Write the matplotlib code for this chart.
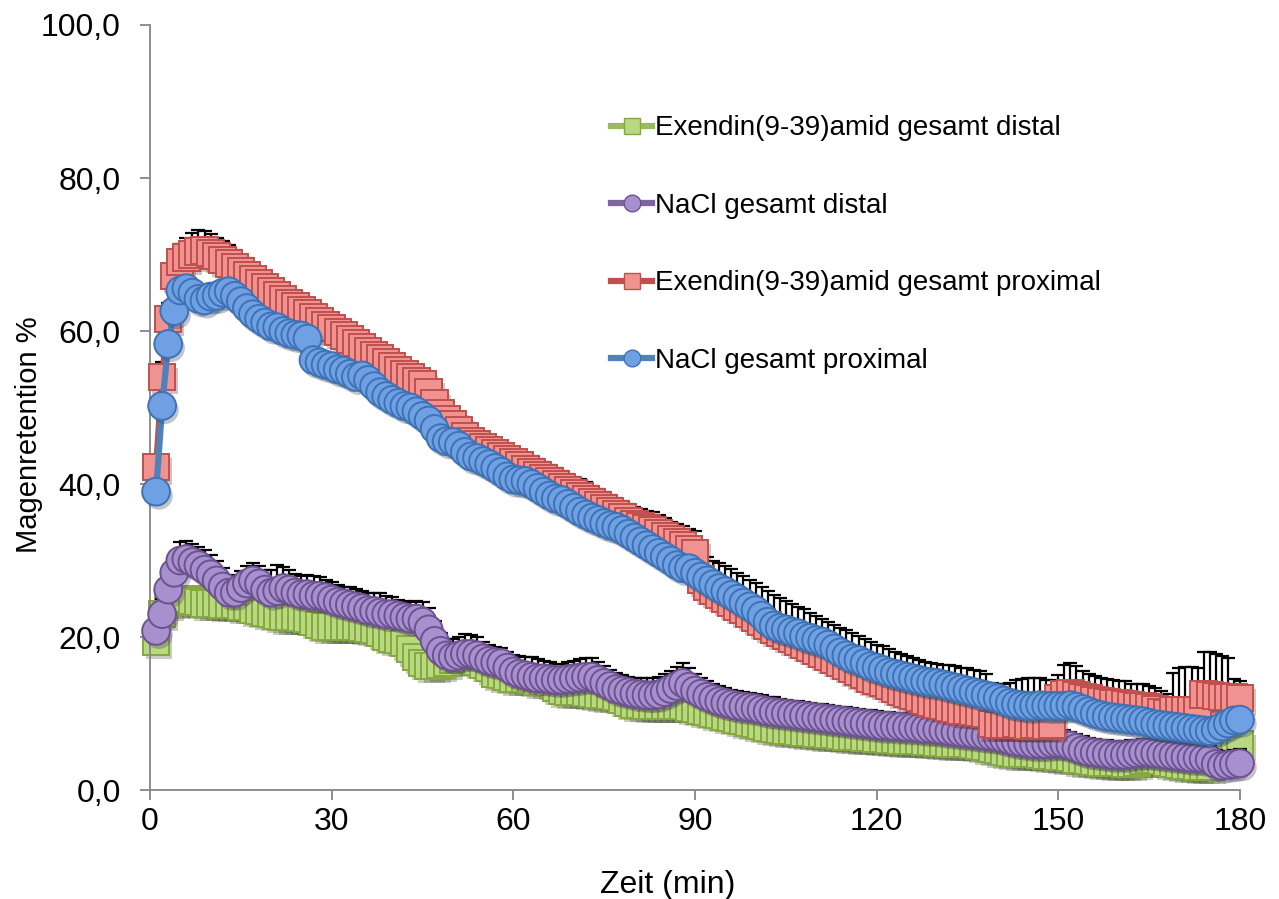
import matplotlib
matplotlib.use("Agg")
import matplotlib.pyplot as plt
import matplotlib.patheffects as pe
from matplotlib.lines import Line2D
import numpy as np
from matplotlib.ticker import FuncFormatter, MultipleLocator

plt.rcParams['font.family'] = ['Liberation Sans', 'DejaVu Sans']

# Zeitpunkte 1..180 min
zeit = np.arange(1, 181)

# Exendin(9-39)amid gesamt distal
exendin_distal = [
    19.4, 23.0, 24.4, 24.6, 24.8, 25.0, 24.8, 24.6, 24.4, 24.4,
    24.4, 24.2, 24.2, 24.2, 24.0, 24.0, 23.6, 23.4, 23.2, 23.0,
    22.8, 22.6, 22.6, 22.6, 22.5, 22.4, 22.0, 21.6, 21.4, 21.4,
    21.4, 21.4, 21.3, 21.3, 21.2, 21.1, 21.0, 20.6, 20.0, 19.8,
    19.6, 19.2, 18.4, 17.4, 16.6, 16.2, 16.2, 16.4, 16.6, 17.0,
    17.2, 17.4, 17.2, 16.8, 16.4, 16.0, 15.2, 15.0, 14.8, 14.6,
    14.6, 14.6, 14.4, 14.2, 14.2, 14.0, 13.4, 13.0, 12.8, 12.8,
    12.8, 12.7, 12.6, 12.5, 12.4, 12.3, 12.2, 11.8, 11.4, 11.2,
    11.1, 11.0, 11.0, 11.0, 11.0, 11.0, 11.0, 11.0, 10.8, 10.6,
    10.4, 10.2, 10.0, 9.8, 9.6, 9.4, 9.2, 9.0, 8.8, 8.6,
    8.4, 8.2, 8.0, 7.9, 7.8, 7.7, 7.6, 7.5, 7.5, 7.4,
    7.3, 7.2, 7.2, 7.1, 7.0, 7.0, 6.9, 6.8, 6.8, 6.7,
    6.7, 6.6, 6.6, 6.5, 6.5, 6.4, 6.4, 6.3, 6.3, 6.2,
    6.2, 6.1, 6.1, 6.0, 6.0, 5.9, 5.8, 5.6, 5.4, 5.2,
    5.0, 4.9, 4.8, 4.8, 4.7, 4.7, 4.6, 4.5, 4.5, 4.4,
    4.3, 4.2, 4.0, 3.9, 3.8, 3.7, 3.6, 3.6, 3.5, 3.5,
    3.4, 3.4, 3.6, 3.8, 3.9, 4.0, 3.8, 3.6, 3.4, 3.3,
    3.2, 3.2, 3.1, 3.1, 3.0, 5.6, 5.8, 5.9, 6.0, 6.0,
]

# NaCl gesamt distal
nacl_distal = [
    20.8, 23.0, 26.2, 28.4, 30.0, 30.2, 29.8, 29.4, 28.8, 28.2,
    27.4, 26.6, 25.8, 25.8, 26.4, 27.0, 27.4, 27.0, 26.2, 25.8,
    26.0, 26.4, 26.2, 25.8, 25.6, 25.6, 25.4, 25.4, 25.2, 24.9,
    24.6, 24.4, 24.2, 24.0, 23.8, 23.5, 23.4, 23.2, 23.0, 23.0,
    22.8, 22.6, 22.4, 22.4, 22.0, 21.0, 19.5, 18.2, 17.6, 17.4,
    17.6, 17.8, 17.8, 17.6, 17.2, 16.9, 16.7, 16.6, 16.0, 15.5,
    15.2, 15.0, 14.8, 14.6, 14.6, 14.5, 14.4, 14.4, 14.5, 14.6,
    14.7, 14.8, 14.8, 14.4, 14.0, 13.6, 13.2, 13.0, 12.8, 12.6,
    12.5, 12.4, 12.4, 12.5, 12.8, 13.2, 13.6, 14.0, 13.5, 13.0,
    12.6, 12.2, 11.9, 11.6, 11.4, 11.2, 11.0, 10.9, 10.8, 10.7,
    10.5, 10.3, 10.2, 10.1, 10.0, 9.9, 9.8, 9.7, 9.6, 9.5,
    9.4, 9.3, 9.2, 9.1, 9.0, 8.9, 8.8, 8.7, 8.6, 8.5,
    8.4, 8.4, 8.3, 8.3, 8.2, 8.2, 8.1, 8.0, 8.0, 7.9,
    7.8, 7.7, 7.6, 7.5, 7.4, 7.3, 7.2, 7.1, 7.0, 6.9,
    6.7, 6.5, 6.3, 6.2, 6.1, 6.0, 6.0, 6.0, 6.1, 6.1,
    6.0, 5.8, 5.5, 5.2, 5.0, 4.9, 4.8, 4.7, 4.6, 4.6,
    4.6, 4.7, 4.8, 4.9, 4.9, 4.8, 4.7, 4.6, 4.5, 4.4,
    4.3, 4.2, 4.2, 4.1, 4.0, 3.4, 3.2, 3.3, 3.4, 3.5,
]

# Exendin(9-39)amid gesamt proximal
exendin_proximal = [
    42.2, 54.0, 61.6, 67.2, 69.0, 69.6, 70.0, 70.4, 70.5, 70.2,
    69.8, 69.3, 68.8, 68.3, 67.8, 67.3, 66.8, 66.2, 65.7, 65.2,
    64.7, 64.2, 63.7, 63.2, 62.7, 62.3, 61.8, 61.3, 60.8, 60.4,
    59.9, 59.4, 58.9, 58.4, 57.9, 57.4, 56.9, 56.4, 55.9, 55.4,
    54.9, 54.4, 53.9, 53.5, 53.0, 52.0, 50.5, 49.2, 48.5, 47.8,
    47.0, 46.3, 45.6, 45.2, 44.8, 44.4, 44.0, 43.6, 43.2, 42.8,
    42.4, 42.0, 41.6, 41.2, 40.8, 40.4, 40.0, 39.6, 39.2, 38.8,
    38.4, 38.0, 37.6, 37.2, 36.8, 36.4, 36.0, 35.6, 35.2, 34.8,
    34.5, 34.2, 34.0, 33.6, 33.2, 32.8, 32.4, 32.0, 31.5, 31.0,
    27.5, 26.5, 26.0, 25.5, 25.0, 24.5, 24.0, 23.5, 23.0, 22.5,
    22.0, 21.5, 21.0, 20.6, 20.2, 19.8, 19.4, 19.0, 18.6, 18.2,
    17.8, 17.4, 17.0, 16.6, 16.2, 15.8, 15.4, 15.0, 14.6, 14.3,
    14.0, 13.6, 13.2, 12.9, 12.6, 12.3, 12.0, 11.7, 11.4, 11.2,
    11.0, 10.8, 10.6, 10.4, 10.3, 10.2, 10.1, 10.0, 8.6, 8.5,
    8.5, 8.5, 8.6, 8.5, 8.4, 8.5, 8.5, 8.4, 8.5, 12.0,
    12.5, 12.6, 12.4, 12.2, 12.0, 11.8, 11.6, 11.5, 11.4, 11.3,
    11.2, 11.1, 11.0, 10.9, 10.8, 10.6, 10.2, 10.0, 10.5, 10.5,
    10.5, 10.5, 10.5, 12.5, 12.4, 12.3, 12.2, 12.2, 12.1, 12.0,
]

# NaCl gesamt proximal
nacl_proximal = [
    39.0, 50.2, 58.3, 62.6, 65.3, 65.6, 65.0, 64.2, 64.0, 64.5,
    64.6, 65.0, 65.2, 64.6, 63.9, 63.0, 62.2, 61.6, 61.1, 60.6,
    60.5, 60.0, 59.7, 59.5, 59.4, 59.0, 56.2, 55.9, 55.6, 55.4,
    55.0, 54.8, 54.4, 54.0, 54.2, 53.6, 52.8, 52.0, 51.5, 51.0,
    50.6, 50.2, 50.0, 49.5, 48.9, 48.3, 47.2, 46.0, 45.6, 45.5,
    45.0, 44.2, 43.6, 43.4, 43.0, 42.6, 42.1, 41.6, 41.0, 40.6,
    40.5, 40.4, 40.0, 39.5, 39.0, 38.5, 38.1, 37.9, 37.4, 36.9,
    36.4, 36.0, 35.6, 35.3, 34.9, 34.6, 34.4, 34.0, 33.5, 33.0,
    32.5, 32.0, 31.5, 31.0, 30.5, 30.0, 29.4, 29.0, 29.0, 28.4,
    27.9, 27.4, 26.9, 26.4, 26.0, 25.5, 25.0, 24.5, 24.0, 23.5,
    22.8, 22.0, 21.5, 21.2, 21.0, 20.7, 20.5, 20.1, 19.9, 19.6,
    19.4, 19.0, 18.5, 18.0, 17.6, 17.2, 17.0, 16.6, 16.2, 16.0,
    15.7, 15.4, 15.2, 15.0, 14.8, 14.6, 14.4, 14.2, 14.1, 14.0,
    13.8, 13.6, 13.4, 13.2, 13.0, 12.8, 12.6, 12.4, 12.2, 12.0,
    11.7, 11.4, 11.2, 11.1, 11.0, 11.0, 11.1, 11.0, 11.0, 11.0,
    11.0, 11.1, 10.9, 10.6, 10.3, 10.0, 9.8, 9.6, 9.5, 9.4,
    9.3, 9.2, 9.1, 9.0, 8.8, 8.6, 8.5, 8.4, 8.3, 8.2,
    8.1, 8.0, 7.9, 7.8, 7.7, 7.9, 8.3, 8.7, 9.1, 9.2,
]

# Standardfehler (nur nach oben) fuer NaCl distal
nacl_distal_err = [
    1.5, 2.0, 2.2, 2.3, 2.4, 2.4, 2.3, 2.4, 2.6, 2.5,
    2.5, 2.4, 2.3, 2.2, 2.2, 2.3, 2.3, 2.3, 2.6, 3.0,
    3.4, 2.8, 2.5, 2.4, 2.4, 2.5, 2.6, 2.4, 2.3, 2.3,
    2.2, 2.2, 2.3, 2.3, 2.2, 2.2, 2.3, 2.5, 2.3, 2.2,
    2.1, 2.1, 2.2, 2.3, 2.6, 2.8, 2.6, 2.3, 2.2, 2.3,
    2.4, 2.6, 2.5, 2.4, 2.2, 2.1, 2.0, 2.0, 2.1, 2.2,
    2.3, 2.4, 2.6, 2.5, 2.3, 2.2, 2.1, 2.1, 2.2, 2.3,
    2.4, 2.5, 2.4, 2.3, 2.2, 2.1, 2.1, 2.0, 2.0, 2.1,
    2.1, 2.2, 2.3, 2.3, 2.4, 2.4, 2.5, 2.6, 2.4, 2.2,
    2.1, 2.0, 2.0, 2.0, 2.0, 1.9, 1.9, 1.9, 1.9, 1.9,
    1.9, 1.9, 1.9, 1.8, 1.8, 1.8, 1.8, 1.8, 1.8, 1.8,
    1.8, 1.8, 1.8, 1.8, 1.8, 1.8, 1.8, 1.8, 1.8, 1.8,
    1.8, 1.8, 1.8, 1.8, 1.8, 1.8, 1.8, 1.8, 1.8, 1.8,
    1.8, 1.8, 1.8, 1.8, 1.8, 1.8, 1.8, 1.8, 1.8, 1.8,
    1.8, 1.8, 1.8, 1.8, 1.8, 1.8, 1.8, 1.8, 1.8, 1.8,
    1.8, 1.8, 1.8, 1.8, 1.8, 1.8, 1.8, 1.8, 1.8, 1.8,
    1.8, 1.8, 1.8, 1.8, 1.8, 1.8, 1.8, 1.8, 1.8, 1.8,
    1.8, 1.8, 1.8, 1.8, 1.8, 1.8, 1.8, 1.8, 1.8, 1.8,
]

# Standardfehler (nur nach oben) fuer Exendin proximal
exendin_proximal_err = [
    1.5, 2.0, 2.0, 2.2, 2.4, 2.6, 2.8, 2.8, 2.6, 2.5,
    2.4, 2.5, 2.4, 2.3, 2.2, 2.2, 2.1, 2.0, 2.0, 2.0,
    2.0, 2.0, 2.0, 2.0, 1.9, 1.9, 1.9, 1.9, 1.9, 1.9,
    2.0, 2.0, 2.0, 2.0, 2.0, 2.0, 2.0, 2.0, 2.0, 2.0,
    2.0, 2.0, 2.0, 2.0, 2.0, 2.0, 2.0, 2.0, 2.0, 2.0,
    2.0, 2.0, 2.0, 2.0, 2.0, 2.0, 2.0, 2.0, 2.0, 2.0,
    2.1, 2.1, 2.1, 2.1, 2.1, 2.1, 2.1, 2.1, 2.1, 2.1,
    2.2, 2.2, 2.2, 2.2, 2.2, 2.2, 2.2, 2.2, 2.2, 2.2,
    2.3, 2.3, 2.3, 2.3, 2.3, 2.3, 2.4, 2.5, 2.6, 2.8,
    3.8, 4.0, 4.0, 4.2, 4.3, 4.4, 4.4, 4.5, 4.5, 4.5,
    4.5, 4.5, 4.5, 4.5, 4.5, 4.5, 4.5, 4.6, 4.6, 4.6,
    4.6, 4.6, 4.6, 4.6, 4.7, 4.7, 4.7, 4.7, 4.7, 4.7,
    4.8, 4.8, 4.8, 4.9, 4.9, 5.0, 5.0, 5.1, 5.2, 5.3,
    5.4, 5.5, 5.6, 5.6, 5.6, 5.5, 5.4, 5.2, 5.4, 5.3,
    5.3, 5.5, 5.8, 6.0, 6.2, 6.2, 6.1, 6.0, 5.9, 3.0,
    3.8, 4.0, 3.8, 3.4, 3.2, 3.1, 3.0, 3.0, 3.0, 3.0,
    3.0, 2.8, 2.8, 2.9, 2.8, 2.7, 2.7, 2.6, 4.8, 5.4,
    5.6, 5.6, 5.4, 5.6, 5.6, 5.5, 5.3, 5.0, 2.4, 2.2,
]

labels = [
    "Exendin(9-39)amid gesamt distal",
    "NaCl gesamt distal",
    "Exendin(9-39)amid gesamt proximal",
    "NaCl gesamt proximal",
]

fig = plt.figure(figsize=(12.79, 8.99), dpi=100)
ax = fig.add_axes([0.1173, 0.1212, 0.8522, 0.8510])

# weicher Schatten nur unter den Markern
shadow = [pe.SimplePatchShadow(offset=(2, -3), alpha=0.3, rho=0.4), pe.Normal()]

series = [
    (exendin_distal, None, 's', 19, '#9BBB59', '#B8D882', '#86A83E'),
    (nacl_distal, nacl_distal_err, 'o', 20, '#8064A2', '#A690CE', '#6E5290'),
    (exendin_proximal, exendin_proximal_err, 's', 19, '#C0504D', '#F09390', '#C0504D'),
    (nacl_proximal, None, 'o', 20, '#4F81BD', '#6EA0E3', '#3F72B5'),
]

handles = []
for i, (vals, err, marker, ms, lc, fc, ec) in enumerate(series):
    z = 2 + i
    if err is not None:
        ax.errorbar(zeit, vals, yerr=[np.zeros(len(err)), err], fmt='none',
                    ecolor='black', elinewidth=1.6, capsize=5, capthick=1.6,
                    zorder=z - 0.5, clip_on=False)
    ax.plot(zeit, vals, color=lc, lw=4.5, zorder=z, clip_on=False)
    ax.plot(zeit, vals, ls='none', marker=marker, ms=ms,
            markerfacecolor=fc, markeredgecolor=ec, markeredgewidth=1.4,
            zorder=z + 0.1, clip_on=False, path_effects=shadow)
    handles.append(Line2D([], [], color=lc, lw=4.5, marker=marker, ms=ms * 0.6,
                          markerfacecolor=fc, markeredgecolor=ec,
                          markeredgewidth=1.0, label=labels[i]))

ax.set_xlim(0, 180)
ax.set_ylim(0, 100)
ax.xaxis.set_major_locator(MultipleLocator(30))
ax.yaxis.set_major_locator(MultipleLocator(20))
ax.yaxis.set_major_formatter(FuncFormatter(lambda v, p: f"{v:.1f}".replace('.', ',')))

for s in ['top', 'right']:
    ax.spines[s].set_visible(False)
for s in ['left', 'bottom']:
    ax.spines[s].set_color('#868686')
    ax.spines[s].set_linewidth(1.3)

ax.tick_params(axis='both', which='major', direction='out', length=7,
               width=1.3, color='#868686', labelsize=23)
ax.tick_params(axis='y', pad=14)
ax.tick_params(axis='x', pad=5)

ax.set_xlabel("Zeit (min)", fontsize=23)
ax.xaxis.set_label_coords(0.475, -0.105)
ax.set_ylabel("Magenretention %", fontsize=21)
ax.yaxis.set_label_coords(-0.098, 0.465)

ax.legend(handles=handles, loc='upper left', bbox_to_anchor=(0.4667, 0.887),
          bbox_transform=fig.transFigure, frameon=False, fontsize=20,
          handlelength=1.5, handletextpad=0.1,
          labelspacing=1.85, borderpad=0)

fig.savefig("out.png", dpi=100)
